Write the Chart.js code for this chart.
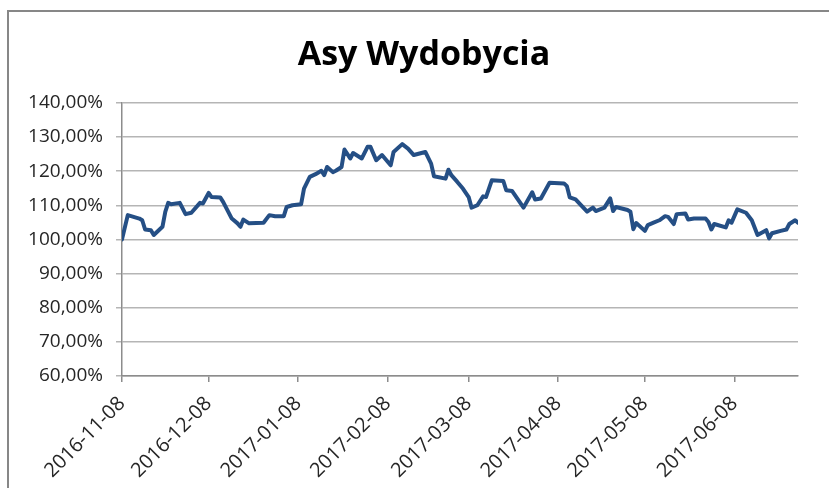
<!DOCTYPE html>
<html>
<head>
<meta charset="utf-8">
<script src="https://cdn.jsdelivr.net/npm/chart.js@4/dist/chart.umd.min.js"></script>
<style>
  html, body { margin: 0; padding: 0; background: #fff; }
  #frame {
    position: absolute; left: 7px; top: 10px; width: 822px; height: 478px;
    border-top: 2px solid #878787; border-left: 2px solid #878787; box-sizing: border-box;
  }
  #wrap { position: absolute; left: 0; top: 0; width: 829px; height: 488px; }
</style>
</head>
<body>
<div id="frame"></div>
<div id="wrap"><canvas id="chart"></canvas></div>
<script>
// series (quote dates and index level in %)
const dates = [
  "2016-11-08", "2016-11-10", "2016-11-14", "2016-11-15", "2016-11-16", "2016-11-18", "2016-11-19",
  "2016-11-22", "2016-11-23", "2016-11-24", "2016-11-25", "2016-11-28", "2016-11-30", "2016-12-02",
  "2016-12-05", "2016-12-06", "2016-12-08", "2016-12-09", "2016-12-12", "2016-12-13", "2016-12-16",
  "2016-12-18", "2016-12-19", "2016-12-20", "2016-12-22", "2016-12-27", "2016-12-29", "2016-12-31",
  "2017-01-03", "2017-01-04", "2017-01-06", "2017-01-09", "2017-01-10", "2017-01-12", "2017-01-14",
  "2017-01-16", "2017-01-17", "2017-01-18", "2017-01-20", "2017-01-21", "2017-01-23", "2017-01-24",
  "2017-01-26", "2017-01-27", "2017-01-30", "2017-02-01", "2017-02-02", "2017-02-04", "2017-02-06",
  "2017-02-09", "2017-02-10", "2017-02-13", "2017-02-15", "2017-02-17", "2017-02-21", "2017-02-23",
  "2017-02-24", "2017-02-28", "2017-03-01", "2017-03-02", "2017-03-04", "2017-03-06", "2017-03-08",
  "2017-03-09", "2017-03-11", "2017-03-13", "2017-03-14", "2017-03-16", "2017-03-20", "2017-03-21",
  "2017-03-23", "2017-03-27", "2017-03-30", "2017-03-31", "2017-04-02", "2017-04-05", "2017-04-10",
  "2017-04-11", "2017-04-12", "2017-04-14", "2017-04-18", "2017-04-20", "2017-04-21", "2017-04-24",
  "2017-04-26", "2017-04-27", "2017-04-28", "2017-05-02", "2017-05-03", "2017-05-04", "2017-05-05",
  "2017-05-08", "2017-05-09", "2017-05-11", "2017-05-13", "2017-05-15", "2017-05-16", "2017-05-18",
  "2017-05-19", "2017-05-22", "2017-05-23", "2017-05-25", "2017-05-29", "2017-05-30", "2017-05-31",
  "2017-06-01", "2017-06-05", "2017-06-06", "2017-06-07", "2017-06-09", "2017-06-12", "2017-06-14",
  "2017-06-16", "2017-06-19", "2017-06-20", "2017-06-21", "2017-06-24", "2017-06-26", "2017-06-27",
  "2017-06-29", "2017-06-30"
];
const values = [
  100.0, 107.1, 106.1, 105.6, 102.9, 102.7, 101.3,
  103.7, 108.1, 110.7, 110.3, 110.7, 107.4, 107.8,
  110.7, 110.5, 113.6, 112.4, 112.3, 111.0, 106.1,
  104.7, 103.7, 105.8, 104.7, 104.9, 107.1, 106.8,
  106.8, 109.5, 110.0, 110.3, 114.9, 118.3, 119.1,
  120.1, 118.8, 121.2, 119.7, 120.1, 121.2, 126.3,
  123.7, 125.3, 123.7, 127.1, 127.1, 123.2, 124.7,
  121.7, 125.6, 127.9, 126.6, 124.7, 125.6, 122.2,
  118.5, 117.8, 120.4, 118.8, 116.9, 114.9, 112.4,
  109.3, 110.0, 112.6, 112.4, 117.3, 117.1, 114.4,
  114.2, 109.3, 113.8, 111.7, 112.0, 116.6, 116.4,
  115.6, 112.3, 111.7, 108.1, 109.3, 108.3, 109.3,
  112.0, 108.3, 109.5, 108.6, 108.1, 103.0, 104.8,
  102.5, 104.2, 104.9, 105.6, 106.8, 106.6, 104.5,
  107.4, 107.6, 105.8, 106.1, 106.1, 105.1, 102.9,
  104.5, 103.5, 105.6, 104.9, 108.8, 107.8, 105.6,
  101.3, 102.7, 100.3, 101.8, 102.5, 102.9, 104.5,
  105.6, 104.9
];
const xTickLabels = [
  "2016-11-08", "2016-12-08", "2017-01-08", "2017-02-08",
  "2017-03-08", "2017-04-08", "2017-05-08", "2017-06-08"
];
const yMin = 60, yMax = 140, yStep = 10;
const xEnd = "2017-06-30";

const DAY = 86400000;
const start = Date.parse(dates[0]);
const dayOf = (s) => Math.round((Date.parse(s) - start) / DAY);

const ctx = document.getElementById("chart").getContext("2d");

new Chart(ctx, {
  type: "line",
  data: {
    datasets: [
      {
        label: "Asy Wydobycia",
        data: dates.map((d, i) => ({ x: dayOf(d), y: values[i] })),
        borderColor: "#254f85",
        borderWidth: 4,
        borderJoinStyle: "round",
        borderCapStyle: "round",
        pointRadius: 0,
        tension: 0,
        fill: false,
      },
    ],
  },
  options: {
    responsive: true,
    maintainAspectRatio: false,
    animation: false,
    layout: { padding: { left: 19, right: 0, top: 0, bottom: 0 } },
    plugins: {
      legend: { display: false },
      tooltip: { enabled: false },
      title: {
        display: true,
        text: "Asy Wydobycia",
        color: "#000",
        font: { family: "'Open Sans'", size: 34, weight: "bold", lineHeight: 1.2 },
        padding: { top: 35, bottom: 27 },
      },
    },
    scales: {
      x: {
        type: "linear",
        min: 0,
        max: dayOf(xEnd),
        afterBuildTicks: (scale) => {
          scale.ticks = xTickLabels.map((s) => ({ value: dayOf(s) }));
        },
        afterFit: (scale) => { scale.height = 112; },
        ticks: {
          autoSkip: false,
          minRotation: 45,
          maxRotation: 45,
          padding: 10,
          color: "#262626",
          font: { family: "'Open Sans'", size: 20 },
          callback: (v) => {
            const i = xTickLabels.findIndex((s) => dayOf(s) === v);
            return i >= 0 ? xTickLabels[i] : "";
          },
        },
        grid: { drawOnChartArea: false, drawTicks: true, tickLength: 6, color: "#8c8c8c", lineWidth: 1.5 },
        border: { display: true, color: "#8c8c8c", width: 1.5 },
      },
      y: {
        min: yMin,
        max: yMax,
        afterFit: (scale) => { scale.width = 122 - 19; },
        ticks: {
          stepSize: yStep,
          padding: 13,
          color: "#262626",
          font: { family: "'Open Sans'", size: 19 },
          callback: (v) => v.toFixed(2).replace(".", ",") + "%",
        },
        grid: { color: "#b5b5b5", lineWidth: 1.5, tickLength: 6 },
        border: { display: true, color: "#8c8c8c", width: 1.5 },
      },
      // empty right-hand box so the plot ends where the reference plot ends
      yRight: {
        position: "right",
        display: true,
        afterFit: (scale) => { scale.width = 31; },
        ticks: { display: false },
        grid: { display: false, drawTicks: false },
        border: { display: false },
      },
    },
  },
});
</script>
</body>
</html>
